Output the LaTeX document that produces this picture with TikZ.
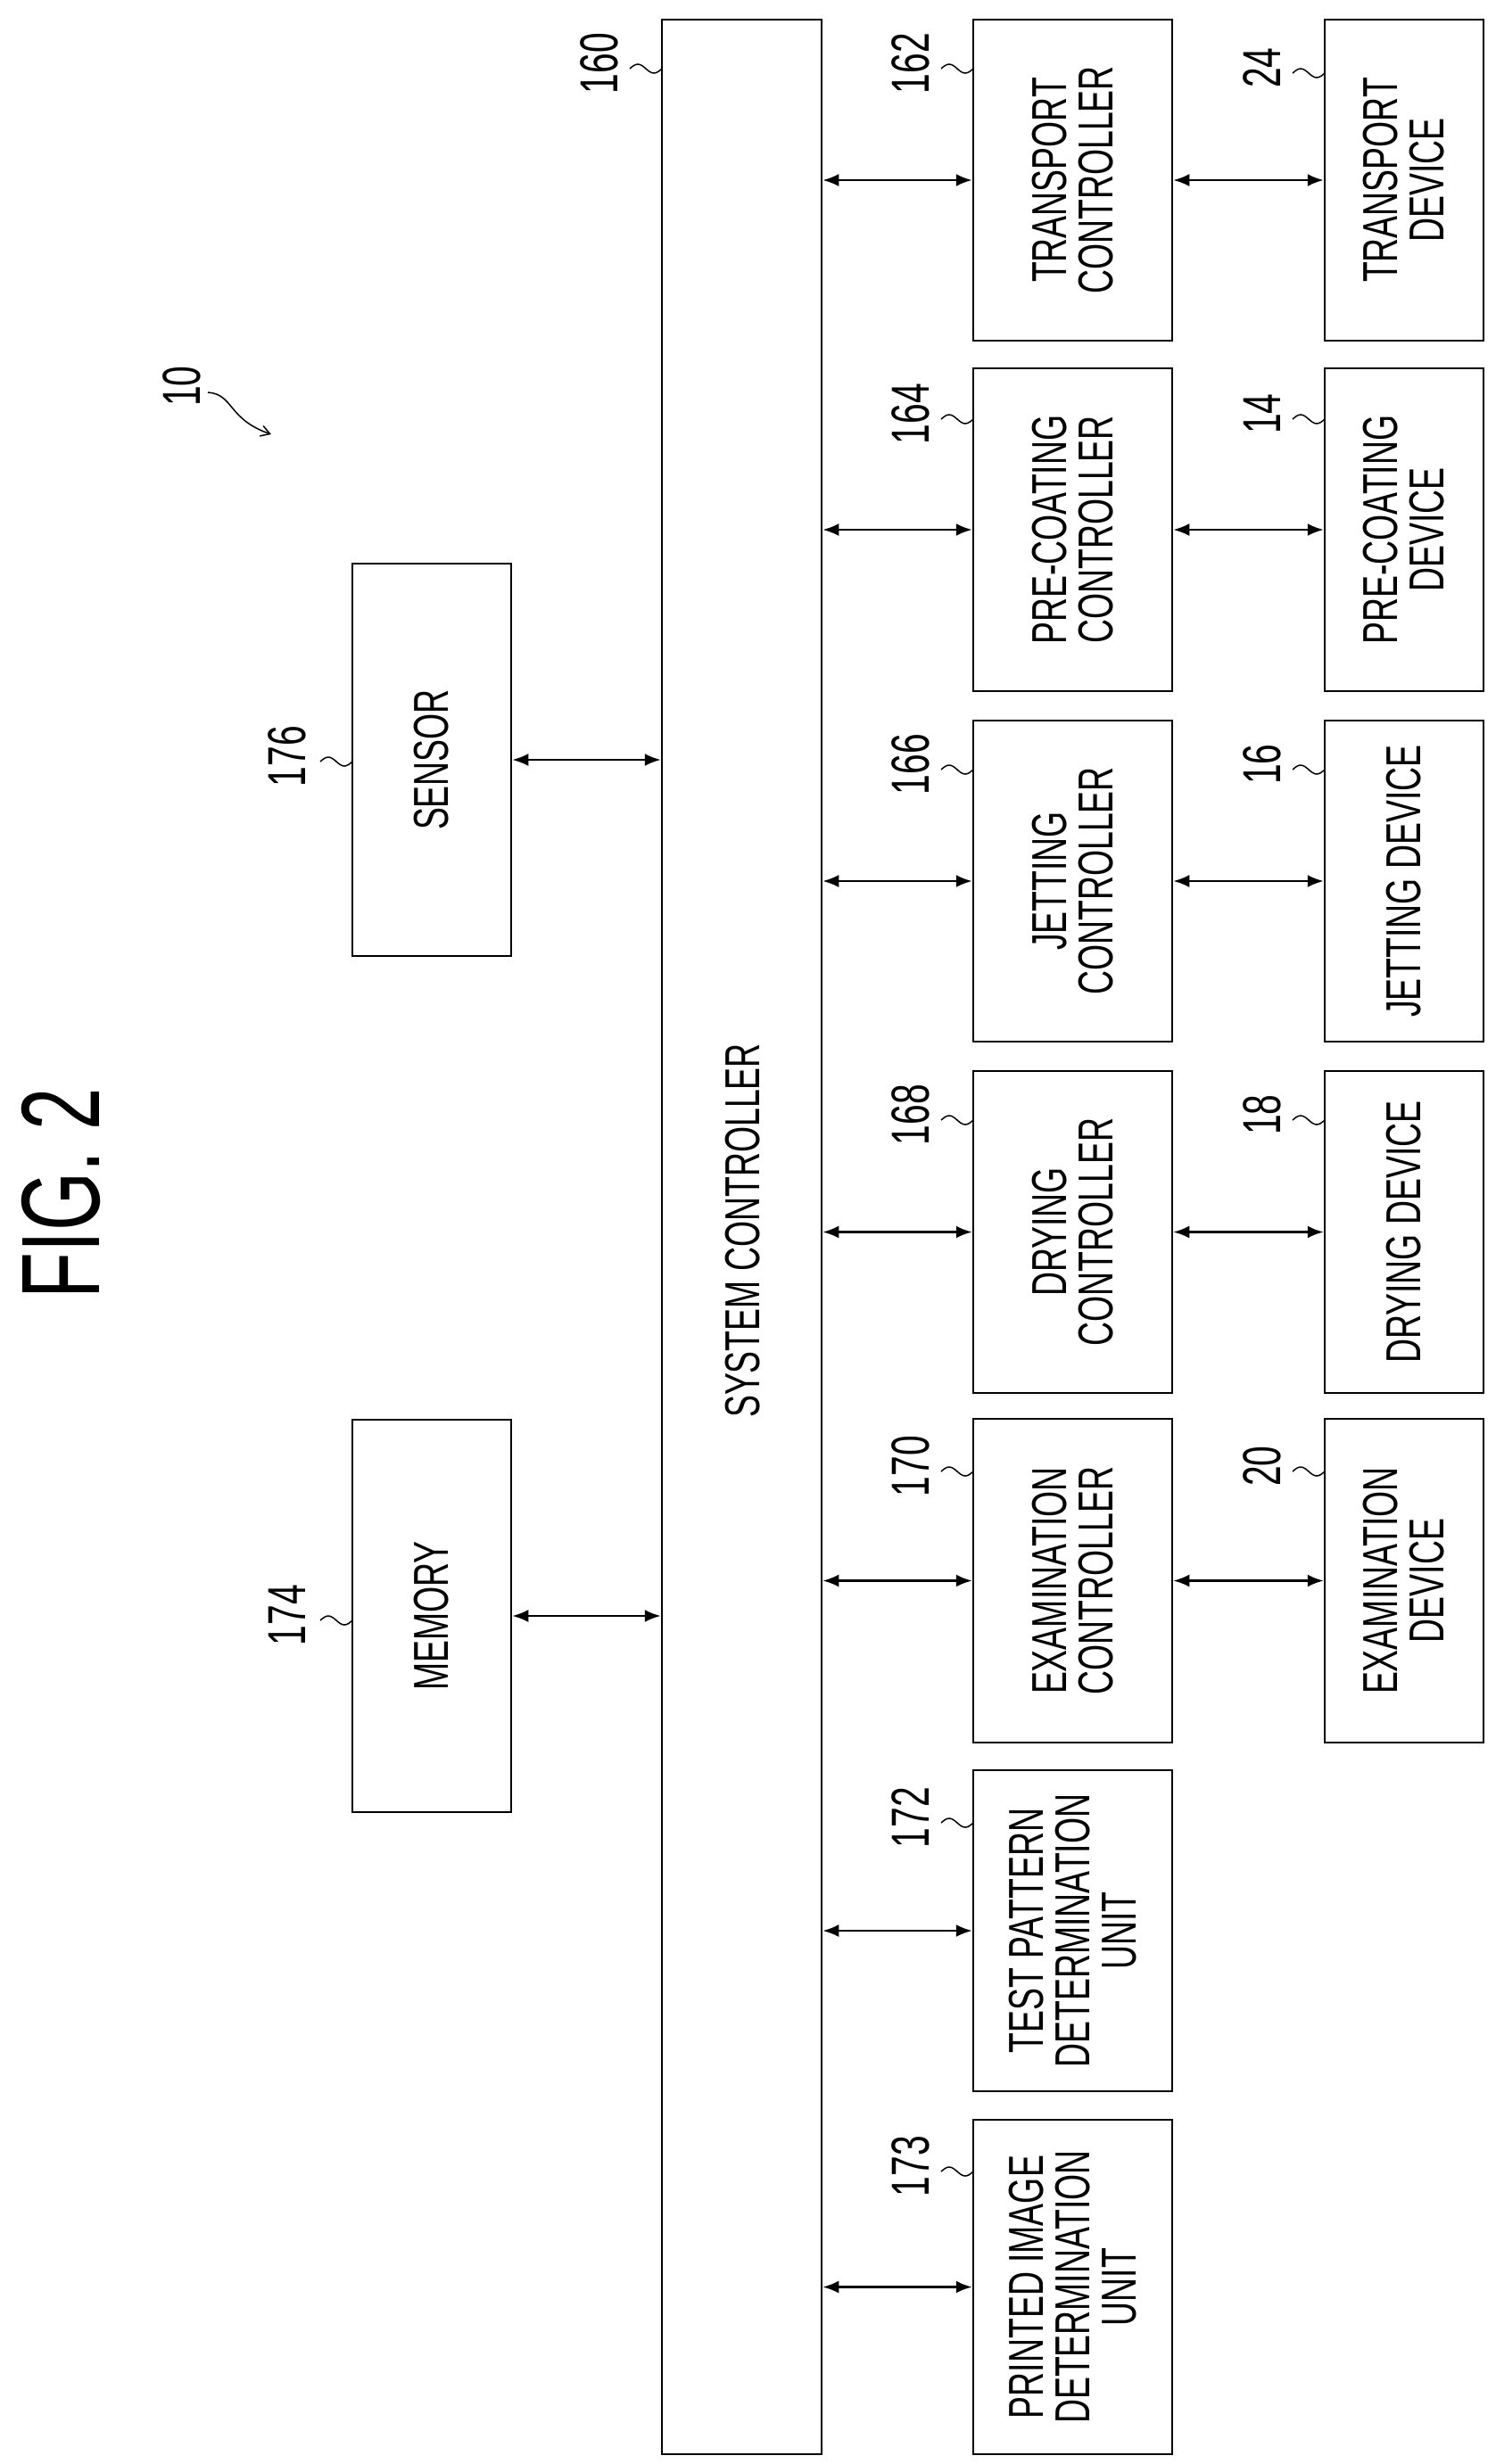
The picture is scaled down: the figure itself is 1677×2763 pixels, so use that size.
\documentclass[tikz,border=0pt]{standalone}
\usepackage{fontspec}
\setmainfont[FakeStretch=0.68]{Liberation Sans}
\usetikzlibrary{arrows.meta}
\begin{document}
\begin{tikzpicture}[x=1pt,y=-1pt,
  box/.style={draw,line width=2.5pt,inner sep=0pt},
  txt/.style={rotate=90,align=center,font=\fontsize{55}{52}\selectfont},
  num/.style={rotate=90,font=\fontsize{60}{60}\selectfont},
  arr/.style={line width=2.5pt,{Latex[length=18pt,width=14pt]}-{Latex[length=18pt,width=14pt]}},
  sq/.style={line width=1.5pt}]
\useasboundingbox (0,0) rectangle (1677,2763);
% boxes: \node at center with size
\newcommand{\bx}[5]{\node[box,minimum width=#4-#2,minimum height=#5-#3] (#1) at ({(#2+#4)/2},{(#3+#5)/2}) {};}
\bx{sys}{742}{22}{921}{2752}
\bx{sen}{395}{632}{573}{1072}
\bx{mem}{395}{1592}{573}{2032}
\bx{c162}{1091}{22}{1314}{382}
\bx{c164}{1091}{413}{1314}{775}
\bx{c166}{1091}{808}{1314}{1168}
\bx{c168}{1091}{1201}{1314}{1562}
\bx{c170}{1091}{1591}{1314}{1954}
\bx{c172}{1091}{1985}{1314}{2345}
\bx{c173}{1091}{2377}{1314}{2752}
\bx{d24}{1485}{22}{1663}{382}
\bx{d14}{1485}{413}{1663}{775}
\bx{d16}{1485}{808}{1663}{1168}
\bx{d18}{1485}{1201}{1663}{1562}
\bx{d20}{1485}{1591}{1663}{1954}
% texts
\node[txt] at (833,1380) {SYSTEM CONTROLLER};
\node[txt] at (sen) {SENSOR};
\node[txt] at (mem) {MEMORY};
\node[txt] at (c162) {TRANSPORT\\CONTROLLER};
\node[txt] at (c164) {PRE-COATING\\CONTROLLER};
\node[txt] at (c166) {JETTING\\CONTROLLER};
\node[txt] at (c168) {DRYING\\CONTROLLER};
\node[txt] at (c170) {EXAMINATION\\CONTROLLER};
\node[txt] at (c172) {TEST PATTERN\\DETERMINATION\\UNIT};
\node[txt] at (c173) {PRINTED IMAGE\\DETERMINATION\\UNIT};
\node[txt] at (d24) {TRANSPORT\\DEVICE};
\node[txt] at (d14) {PRE-COATING\\DEVICE};
\node[txt] at (d16) {JETTING DEVICE};
\node[txt] at (d18) {DRYING DEVICE};
\node[txt] at (d20) {EXAMINATION\\DEVICE};
% arrows
\coordinate (s1) at (921,202);
\foreach \c/\d in {c162/d24,c164/d14,c166/d16,c168/d18,c170/d20}{
  \draw[arr] (sys.east|-\c) -- (\c.west);
  \draw[arr] (\c.east) -- (\d.west);
}
\foreach \c in {c172,c173}{\draw[arr] (sys.east|-\c) -- (\c.west);}
\draw[arr] (sen.east) -- (sys.west|-sen);
\draw[arr] (mem.east) -- (sys.west|-mem);
% labels
\newcommand{\lb}[4]{\node[num] (l#3) at (#1,#2) {#3};
  \draw[sq] ({#4-36},{#2+6}) sin ++(9,-5) cos ++(9,5) sin ++(9,5) cos ++(9,-5);}
\lb{672}{71}{160}{742}
\lb{1021}{71}{162}{1091}
\lb{1415}{76}{24}{1485}
\lb{1021}{464}{164}{1091}
\lb{1415}{464}{14}{1485}
\lb{1021}{857}{166}{1091}
\lb{1415}{857}{16}{1485}
\lb{1021}{1250}{168}{1091}
\lb{1415}{1250}{18}{1485}
\lb{1021}{1644}{170}{1091}
\lb{1415}{1644}{20}{1485}
\lb{1021}{2038}{172}{1091}
\lb{1021}{2429}{173}{1091}
\lb{322}{848}{176}{395}
\lb{322}{1811}{174}{395}
\node[num] (l10) at (204,433) {10};
\coordinate (t10) at (304,487);
\draw[sq,-{Straight Barb[length=10pt,width=12pt]}] (233,440) .. controls (262,442) and (255,470) .. (t10);
\node[rotate=90,font=\fontsize{125}{125}\selectfont] (fig) at (68,1338) {FIG. 2};
\end{tikzpicture}
\end{document}
